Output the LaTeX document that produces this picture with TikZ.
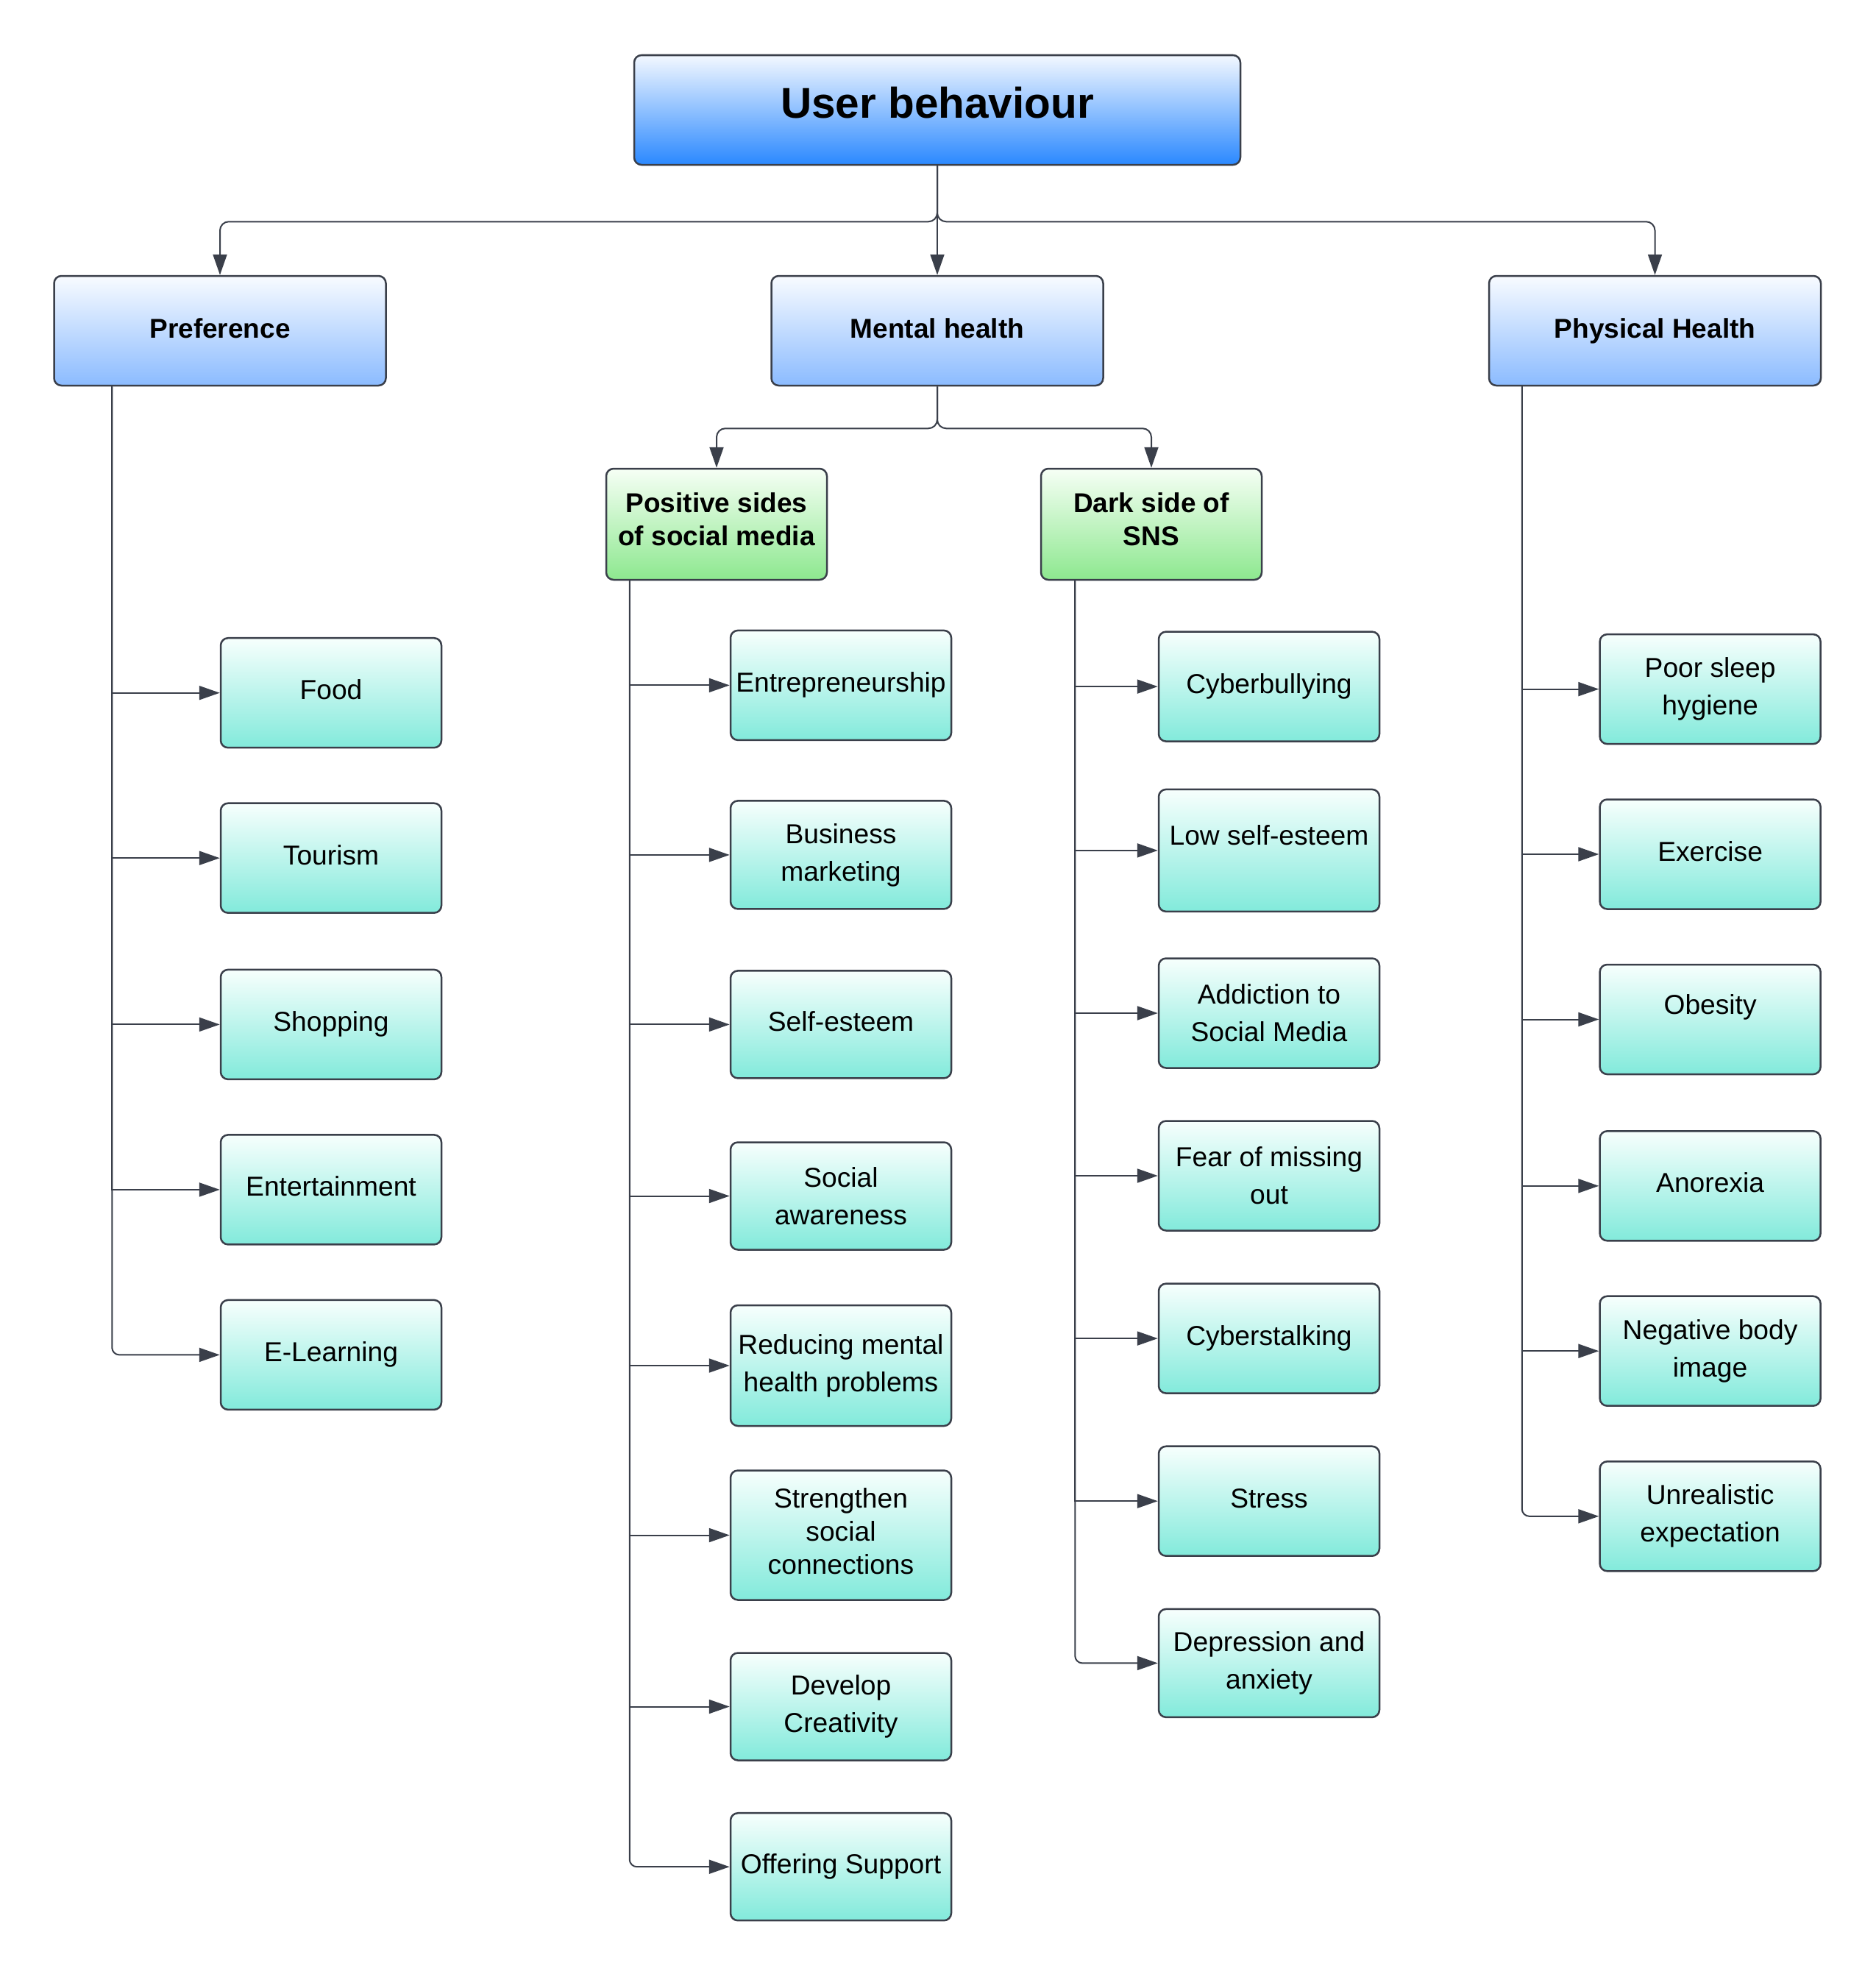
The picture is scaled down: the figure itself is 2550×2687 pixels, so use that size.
\documentclass[tikz,border=0pt]{standalone}
\usepackage{fontspec}
\setmainfont{Liberation Sans}
\usetikzlibrary{arrows.meta}
\definecolor{edge}{HTML}{3A3F4A}
\definecolor{tTop}{HTML}{F3F8FF}
\definecolor{tMid}{HTML}{74B2FF}
\definecolor{tBot}{HTML}{2A88FF}
\definecolor{hTop}{HTML}{F8FBFF}
\definecolor{hBot}{HTML}{8BBBFF}
\definecolor{gTop}{HTML}{F6FFF5}
\definecolor{gBot}{HTML}{8DE88F}
\definecolor{lTop}{HTML}{F7FFFD}
\definecolor{lBot}{HTML}{82EADB}
\begin{document}
\begin{tikzpicture}[x=1pt,y=-1pt,
  box/.style={draw=edge, line width=2.5pt, rounded corners=10pt, align=center,
    inner sep=2pt, text=black, font=\fontsize{37.2pt}{51pt}\selectfont},
  titlebox/.style={box, top color=tTop, middle color=tMid, bottom color=tBot,
    minimum width=824pt, minimum height=149pt, text depth=20pt,
    font=\bfseries\fontsize{58.5pt}{66pt}\selectfont},
  headbox/.style={box, top color=hTop, bottom color=hBot,
    minimum width=451pt, minimum height=149pt, text height=27pt, text depth=7pt,
    font=\bfseries\fontsize{37pt}{45pt}\selectfont},
  greenbox/.style={box, top color=gTop, bottom color=gBot,
    minimum width=300pt, minimum height=151pt, text depth=14pt,
    font=\bfseries\fontsize{37pt}{45pt}\selectfont},
  leaf/.style={box, top color=lTop, bottom color=lBot,
    minimum width=300pt, minimum height=149pt},
  oneline/.style={text height=26pt, text depth=8pt},
  conn/.style={draw=edge, line width=2pt, -{Triangle[length=28pt,width=19pt]}}
]
\fill[white] (0,0) rectangle (2550,2687);
\useasboundingbox (0,0) rectangle (2550,2687);

% top levels
\node[titlebox] (ub) at (1274,149.5) {User behaviour};
\node[headbox] (pref) at (299,449.5) {Preference};
\node[headbox] (mh) at (1274,449.5) {Mental health};
\node[headbox] (ph) at (2249.5,449.5) {Physical Health};
\node[greenbox] (pos) at (974,712.5) {Positive sides\\of social media};
\node[greenbox] (dark) at (1565,712.5) {Dark side of\\SNS};

% Preference leaves
\node[leaf, oneline] (food) at (450,941.7) {Food};
\node[leaf, oneline] (tour) at (450,1166.2) {Tourism};
\node[leaf, oneline] (shop) at (450,1392.4) {Shopping};
\node[leaf, oneline] (ent) at (450,1616.9) {Entertainment};
\node[leaf, oneline] (elearn) at (450,1841.4) {E-Learning};

% Positive leaves
\node[leaf, oneline] (entre) at (1143,931.4) {Entrepreneurship};
\node[leaf, minimum height=147pt] (busi) at (1143,1161.9) {Business\\marketing};
\node[leaf, oneline, minimum height=146pt] (selfe) at (1143,1392.4) {Self-esteem};
\node[leaf, minimum height=146pt] (soca) at (1143,1625.5) {Social\\awareness};
\node[leaf, minimum height=164pt] (redu) at (1143,1856) {Reducing mental\\health problems};
\node[leaf, minimum height=176pt, text depth=12pt, font=\fontsize{37.2pt}{45pt}\selectfont] (stre) at (1143,2086.5) {Strengthen\\social\\connections};
\node[leaf, minimum height=146pt] (deve) at (1143,2319.5) {Develop\\Creativity};
\node[leaf, oneline, minimum height=146pt] (offe) at (1143,2537.2) {Offering Support};

% Dark leaves
\node[leaf, oneline] (cybb) at (1725,933.1) {Cyberbullying};
\node[leaf, minimum height=166pt, text height=26pt, text depth=40pt] (lowse) at (1725,1155.9) {Low self-esteem};
\node[leaf] (addi) at (1725,1377) {Addiction to\\Social Media};
\node[leaf] (fear) at (1725,1598) {Fear of missing\\out};
\node[leaf, oneline] (cybs) at (1725,1819.1) {Cyberstalking};
\node[leaf, oneline] (stress) at (1725,2040.2) {Stress};
\node[leaf, minimum height=147pt] (depr) at (1725,2260.4) {Depression and\\anxiety};

% Physical leaves
\node[leaf] (sleep) at (2324.6,936.6) {Poor sleep\\hygiene};
\node[leaf, oneline] (exer) at (2324.6,1161) {Exercise};
\node[leaf, text height=26pt, text depth=40pt] (obes) at (2324.6,1385.5) {Obesity};
\node[leaf, oneline] (anor) at (2324.6,1611.8) {Anorexia};
\node[leaf] (nega) at (2324.6,1836.2) {Negative body\\image};
\node[leaf] (unre) at (2324.6,2060.8) {Unrealistic\\expectation};

% top bus
\draw[conn] (ub.south) -- (mh.north);
\draw[conn, rounded corners=12pt] (ub.south) -- ++(0,76) -| (pref.north);
\draw[conn, rounded corners=12pt] (ub.south) -- ++(0,76) -| (ph.north);

% mental health bus
\draw[conn, rounded corners=12pt] (mh.south) -- ++(0,57) -| (pos.north);
\draw[conn, rounded corners=12pt] (mh.south) -- ++(0,57) -| (dark.north);

% trunks
\coordinate (prefT) at ([xshift=80pt]pref.south west);
\coordinate (posT) at ([xshift=33pt]pos.south west);
\coordinate (darkT) at ([xshift=47.5pt]dark.south west);
\coordinate (phT) at ([xshift=46pt]ph.south west);

\foreach \n in {food,tour,shop,ent} \draw[conn] (prefT) |- (\n.west);
\draw[conn, rounded corners=10pt] (prefT) |- (elearn.west);

\foreach \n in {entre,busi,selfe,soca,redu,stre,deve} \draw[conn] (posT) |- (\n.west);
\draw[conn, rounded corners=10pt] (posT) |- (offe.west);

\foreach \n in {cybb,lowse,addi,fear,cybs,stress} \draw[conn] (darkT) |- (\n.west);
\draw[conn, rounded corners=10pt] (darkT) |- (depr.west);

\foreach \n in {sleep,exer,obes,anor,nega} \draw[conn] (phT) |- (\n.west);
\draw[conn, rounded corners=10pt] (phT) |- (unre.west);
\end{tikzpicture}
\end{document}
